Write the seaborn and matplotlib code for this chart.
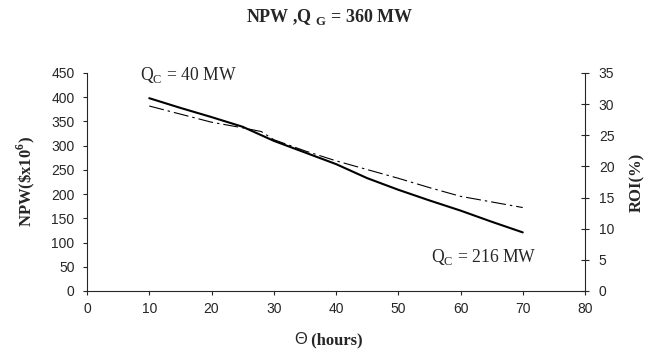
import numpy as np
import pandas as pd
import seaborn as sns
import matplotlib
matplotlib.use('Agg')
import matplotlib.pyplot as plt

# data
hours = [10, 15, 20, 25, 30, 35, 40, 45, 50, 55, 60, 65, 70]
npw = [398, 378, 359, 339, 310, 286, 262, 233, 209, 187, 166, 143, 121]
hours_roi = [10, 15, 20, 25, 28, 30, 35, 40, 45, 50, 55, 60, 65, 70]
roi = [29.7, 28.4, 27.1, 26.2, 25.6, 24.3, 22.5, 20.9, 19.5, 18.1, 16.6, 15.2, 14.3, 13.4]

x_ticks = [0, 10, 20, 30, 40, 50, 60, 70, 80]
npw_ticks = [0, 50, 100, 150, 200, 250, 300, 350, 400, 450]
roi_ticks = [0, 5, 10, 15, 20, 25, 30, 35]

df_npw = pd.DataFrame({'hours': hours, 'npw': npw})
df_roi = pd.DataFrame({'hours': hours_roi, 'roi': roi})

sns.set_style('ticks')
plt.rcParams['font.family'] = ['Liberation Sans', 'DejaVu Sans']
serif = ['Liberation Serif', 'DejaVu Serif']

fig = plt.figure(figsize=(6.6, 3.51), dpi=100)
# axes box: x 87..585 px, y 73..291 px
ax = fig.add_axes([87 / 660, 1 - 291 / 351, 498 / 660, 218 / 351])
ax2 = ax.twinx()

sns.lineplot(data=df_npw, x='hours', y='npw', ax=ax, color='black', linewidth=1.5)
sns.lineplot(data=df_roi, x='hours', y='roi', ax=ax2, color='black', linewidth=0.8,
             linestyle=(0, (13.5, 3.6, 2.2, 3.6)))

ax.set_xlim(0, 80)
ax.set_ylim(0, 450)
ax2.set_ylim(0, 35)
ax.set_xticks(x_ticks)
ax.set_yticks(npw_ticks)
ax2.set_yticks(roi_ticks)
ax.set_xlabel('')
ax.set_ylabel('')
ax2.set_ylabel('')

for a in (ax, ax2):
    a.spines['top'].set_visible(False)
    for s in a.spines.values():
        s.set_linewidth(0.8)
ax.spines['right'].set_visible(False)
ax2.spines['left'].set_visible(False)
ax2.spines['bottom'].set_visible(False)

ax.tick_params(axis='x', labelsize=10, length=3, width=0.8, direction='out', pad=5)
ax.tick_params(axis='y', labelsize=10, length=3, width=0.8, direction='out', pad=6)
ax2.tick_params(axis='y', labelsize=10, length=6, width=0.8, direction='inout', pad=7)

ax.text(8.5, 446, r'Q$_\mathregular{C}$ = 40 MW', fontsize=12.7, family=serif, va='center')
ax.text(55.3, 70, r'Q$_\mathregular{C}$ = 216 MW', fontsize=12.7, family=serif, va='center')

fig.text(330 / 660, 1 - 17 / 351, r'NPW ,Q $_\mathregular{G}$ = 360 MW', ha='center', va='center',
         fontsize=13, fontweight='bold', family=serif)
fig.text(26 / 660, 1 - 182 / 351, r'NPW(\$x10$^\mathregular{6}$)', rotation=90, ha='center',
         va='center', fontsize=12, fontweight='bold', family=serif)
fig.text(637 / 660, 1 - 182 / 351, 'ROI(%)', rotation=90, ha='center', va='center',
         fontsize=12, fontweight='bold', family=serif)
fig.text(307 / 660, 1 - 340 / 351, '\u0398', ha='right', va='center', fontsize=12)
fig.text(307 / 660, 1 - 340 / 351, ' (hours)', ha='left', va='center', fontsize=12,
         fontweight='bold', family=serif)

fig.savefig('out.png', dpi=100)
